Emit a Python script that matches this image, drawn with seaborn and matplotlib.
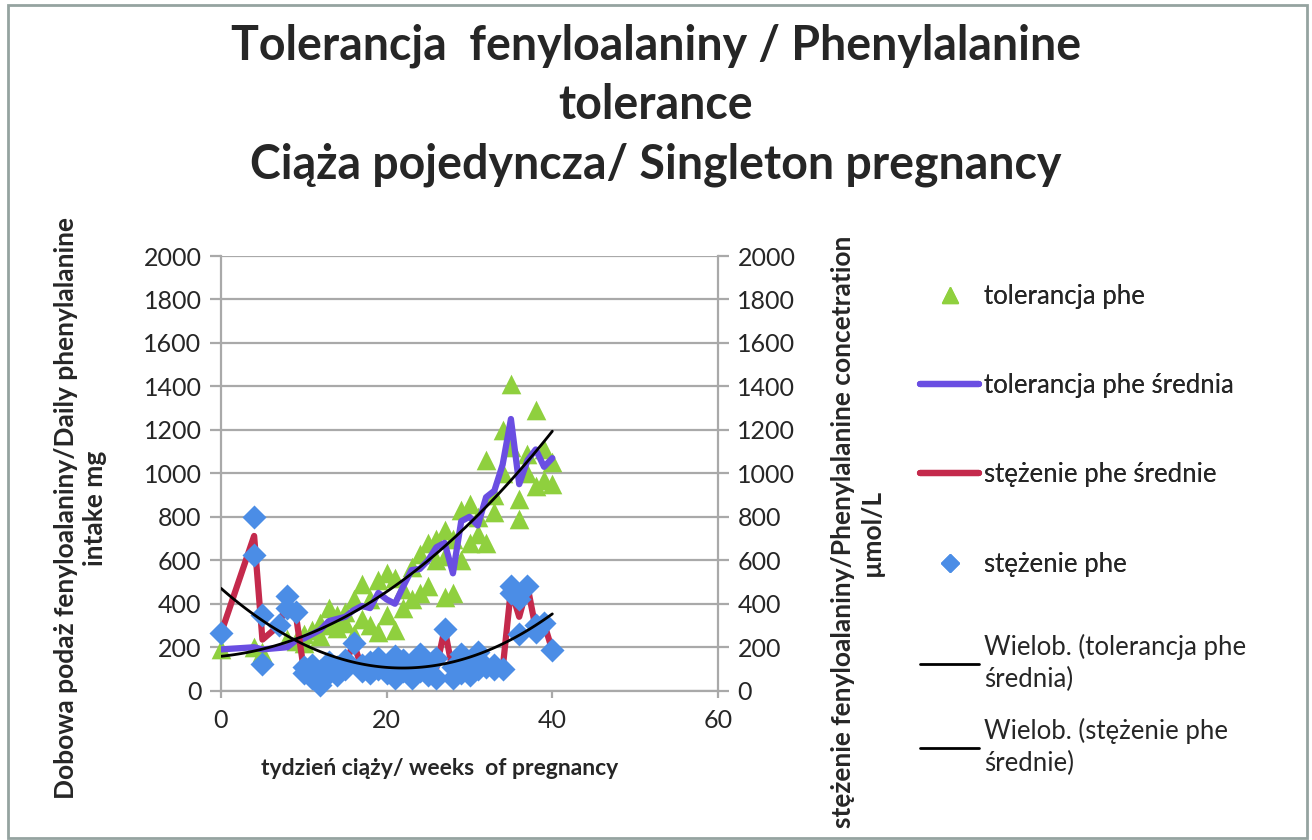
import numpy as np
import pandas as pd
import matplotlib.pyplot as plt
import seaborn as sns
from matplotlib.lines import Line2D
from matplotlib.patches import Rectangle

# --- data ---
# tolerancja phe: single measurements (mg/day)
tol_weeks = [0, 4, 5, 8, 9, 10, 10, 11, 12, 12, 13, 13, 14, 14, 15, 15, 16, 16,
             17, 17, 18, 18, 19, 19, 20, 20, 21, 21, 22, 22, 23, 23, 24, 24,
             25, 25, 26, 26, 27, 27, 27, 28, 28, 29, 29, 30, 30, 31, 31, 32, 32,
             33, 33, 34, 34, 35, 35, 36, 36, 37, 37, 38, 38, 39, 39, 40, 40]
tol_vals = [190, 200, 180, 240, 230, 260, 220, 280, 310, 250, 380, 300, 350, 290,
            360, 310, 420, 260, 490, 330, 420, 300, 510, 270, 540, 350, 520, 280,
            470, 380, 570, 420, 630, 450, 680, 480, 700, 600, 740, 620, 430, 700,
            450, 830, 600, 860, 680, 720, 800, 1060, 680, 900, 820, 1200, 1000,
            1410, 1120, 880, 790, 1000, 1090, 1290, 940, 1110, 970, 1050, 950]

# tolerancja phe średnia: weekly mean
mean_weeks = [0, 4, 5, 8, 9, 10, 11, 12, 13, 14, 15, 16, 17, 18, 19, 20, 21, 22,
              23, 24, 25, 26, 27, 28, 29, 30, 31, 32, 33, 34, 35, 36, 37, 38, 39, 40]
tol_mean = [190, 200, 190, 200, 230, 240, 260, 280, 320, 330, 340, 370, 390, 380,
            450, 420, 400, 480, 555, 560, 600, 660, 680, 540, 780, 800, 760, 890,
            920, 1040, 1250, 950, 1060, 1110, 1030, 1070]

# stężenie phe: single measurements (umol/L)
conc_weeks = [0, 4, 4, 5, 5, 7, 8, 8, 9, 10, 10, 11, 11, 12, 12, 13, 13, 14, 14,
              15, 15, 16, 17, 17, 18, 18, 19, 19, 20, 20, 21, 21, 22, 22, 23, 23,
              24, 24, 25, 25, 26, 26, 27, 28, 28, 29, 29, 30, 30, 31, 31, 32, 33,
              33, 34, 35, 35, 36, 36, 37, 38, 38, 39, 40]
conc_vals = [264, 800, 624, 348, 123, 300, 435, 380, 360, 110, 80, 120, 60, 25, 90,
             80, 130, 110, 70, 100, 140, 220, 90, 120, 130, 80, 100, 150, 120, 80,
             160, 60, 140, 90, 100, 60, 170, 90, 120, 70, 150, 60, 285, 110, 60,
             170, 80, 130, 70, 100, 180, 110, 120, 100, 100, 480, 450, 420, 260,
             480, 270, 300, 310, 185]

# stężenie phe średnie: weekly mean
conc_mean_weeks = [0, 4, 5, 7, 8, 9, 10, 11, 12, 13, 14, 15, 16, 17, 18, 19, 20,
                   21, 22, 23, 24, 25, 26, 27, 28, 29, 30, 31, 32, 33, 34, 35, 36,
                   37, 38, 39, 40]
conc_mean = [264, 712, 235, 300, 410, 360, 95, 90, 60, 105, 90, 120, 220, 105, 105,
             125, 100, 110, 115, 80, 130, 95, 105, 285, 85, 125, 100, 140, 110, 110,
             100, 465, 340, 480, 285, 310, 185]

GREEN = '#8fd03e'
PURPLE = '#6a4ee2'
RED = '#c42a4c'
BLUE = '#4b8de6'
GRID = '#a9a9a9'

sns.set_theme(style='white')
plt.rcParams['font.family'] = ['Lato', 'DejaVu Sans']

fig = plt.figure(figsize=(13.12, 8.4), dpi=100)
ax = fig.add_axes([221 / 1312, 1 - 690.7 / 840, 497 / 1312, 434.7 / 840])
ax2 = ax.twinx()

# primary axis: tolerance
sns.scatterplot(x=tol_weeks, y=tol_vals, ax=ax, marker='^', s=200, color=GREEN,
                edgecolor=GREEN, linewidth=0, clip_on=False, zorder=3)
sns.lineplot(x=mean_weeks, y=tol_mean, ax=ax, color=PURPLE, lw=4.5, estimator=None,
             zorder=4)

# secondary axis: concentration
sns.lineplot(x=conc_mean_weeks, y=conc_mean, ax=ax2, color=RED, lw=4.5,
             estimator=None, zorder=2)
sns.scatterplot(x=conc_weeks, y=conc_vals, ax=ax2, marker='D', s=150, color=BLUE,
                edgecolor=BLUE, linewidth=0, clip_on=False, zorder=3)

# polynomial (order 2) trendlines
sns.regplot(x=np.array(mean_weeks), y=np.array(tol_mean), ax=ax2, order=2,
            scatter=False, ci=None, truncate=True,
            line_kws=dict(color='black', lw=2, zorder=6))
sns.regplot(x=np.array(conc_mean_weeks), y=np.array(conc_mean), ax=ax2, order=2,
            scatter=False, ci=None, truncate=True,
            line_kws=dict(color='black', lw=2, zorder=6))

yt = np.arange(0, 2001, 200)
for a in (ax, ax2):
    a.set_ylim(0, 2000)
    a.set_yticks(yt)
    a.set_xlim(0, 60)
    a.set_xlabel('')
    a.set_ylabel('')
    for sp in a.spines.values():
        sp.set_visible(False)

ax.set_xticks([0, 20, 40, 60])
ax.yaxis.grid(True, color=GRID, lw=1.6)
ax.xaxis.grid(False)
ax.spines['left'].set_visible(True)
ax.spines['bottom'].set_visible(True)
ax.spines['left'].set_color(GRID)
ax.spines['bottom'].set_color(GRID)
ax.spines['left'].set_linewidth(1.6)
ax.spines['bottom'].set_linewidth(1.6)
ax2.spines['right'].set_visible(True)
ax2.spines['right'].set_color(GRID)
ax2.spines['right'].set_linewidth(1.6)

ax.tick_params(axis='y', direction='out', length=8, width=1.6, color=GRID,
               labelsize=18, pad=6, left=True)
ax.tick_params(axis='x', direction='out', length=5, width=1.6, color=GRID,
               labelsize=18, pad=8, bottom=True)
ax2.tick_params(axis='y', direction='out', length=8, width=1.6, color=GRID,
                labelsize=18, pad=6, right=True)

ax.set_xlabel('tydzień ciąży/ weeks  of pregnancy', fontsize=16.5, fontweight='bold',
              ha='center', va='center')
ax.xaxis.set_label_coords(0.44, -0.18)
ax.set_ylabel('Dobowa podaż fenyloalaniny/Daily phenylalanine\nintake mg',
              fontsize=19, fontweight='bold', linespacing=1.25,
              ha='center', va='center', rotation_mode='default')
ax.yaxis.set_label_coords(-0.283, 0.42)
ax2.set_ylabel('stężenie fenyloalaniny/Phenylalanine concetration\nµmol/L',
               fontsize=19, fontweight='bold', linespacing=1.25, rotation=90,
               ha='center', va='center', rotation_mode='default')
ax2.yaxis.set_label_coords(1.28, 0.365)

fig.text(0.5, 1 - 105 / 840,
         'Tolerancja  fenyloalaniny / Phenylalanine\ntolerance\n'
         'Ciąża pojedyncza/ Singleton pregnancy',
         ha='center', va='center', fontsize=33.5, fontweight='bold', linespacing=1.42)

# legend
h1 = [Line2D([], [], marker='^', color=GREEN, ls='None', markersize=12),
      Line2D([], [], color=PURPLE, lw=4.5),
      Line2D([], [], color=RED, lw=4.5),
      Line2D([], [], marker='D', color=BLUE, ls='None', markersize=9)]
l1 = ['tolerancja phe', 'tolerancja phe średnia', 'stężenie phe średnie',
      'stężenie phe']
leg1 = fig.legend(h1, l1, loc='upper left', bbox_to_anchor=(920 / 1312, 1 - 284 / 840),
                  frameon=False, fontsize=18.5, handlelength=2.3, handletextpad=0.2,
                  labelspacing=2.5, borderpad=0, borderaxespad=0)
h2 = [Line2D([], [], color='black', lw=2), Line2D([], [], color='black', lw=2)]
l2 = ['Wielob. (tolerancja phe\nśrednia)', 'Wielob. (stężenie phe\nśrednie)']
leg2 = fig.legend(h2, l2, loc='upper left', bbox_to_anchor=(920 / 1312, 1 - 634 / 840),
                  frameon=False, fontsize=18.5, handlelength=2.3, handletextpad=0.2,
                  labelspacing=1.0, borderpad=0, borderaxespad=0)
for t in leg2.get_texts():
    t.set_linespacing(1.35)
fig.add_artist(leg1)

fig.patches.append(Rectangle((8 / 1312, 2 / 840), 1299 / 1312, 833 / 840,
                             transform=fig.transFigure, fill=False,
                             edgecolor='#95a3a0', lw=2))

fig.savefig('out.png', dpi=100, facecolor='white')
